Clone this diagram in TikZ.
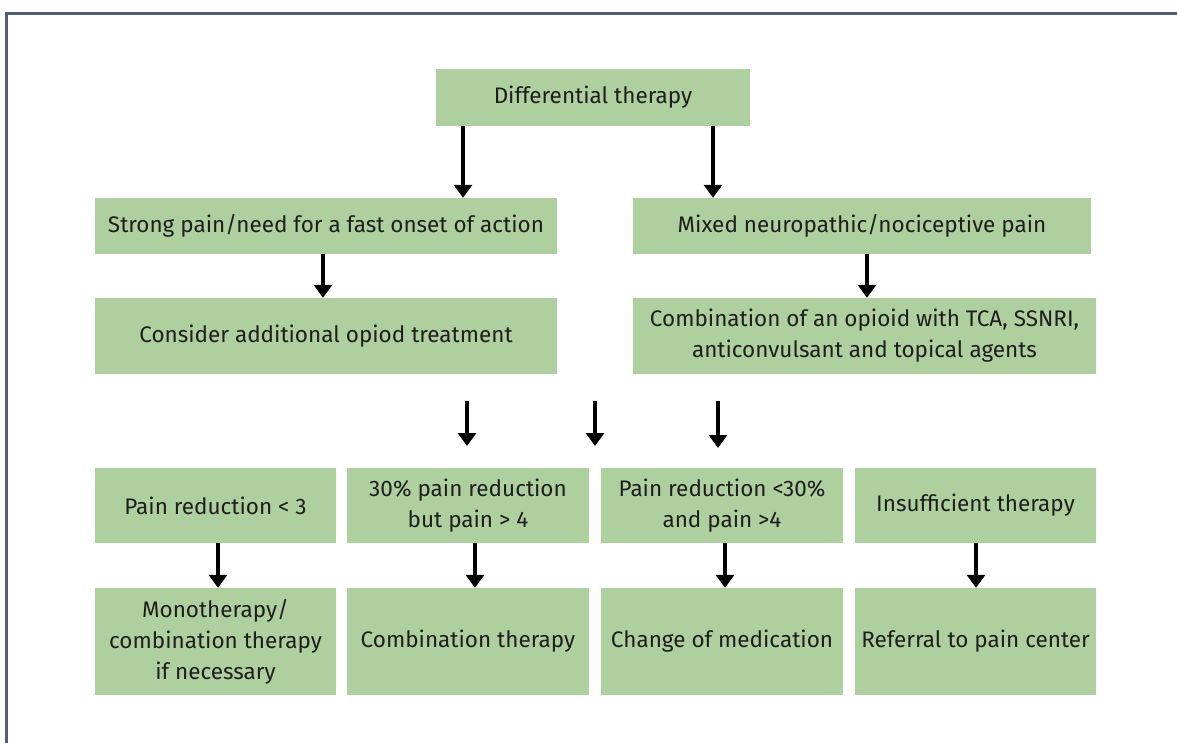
\documentclass[tikz,border=0pt]{standalone}
\usepackage{fontspec}
\setmainfont{Fira Sans}
\usetikzlibrary{arrows.meta}
\definecolor{boxgreen}{RGB}{174,208,158}
\definecolor{framecol}{RGB}{80,94,116}
\definecolor{txt}{RGB}{30,30,30}
\begin{document}
\begin{tikzpicture}[x=1pt,y=-1pt,
  box/.style={fill=boxgreen,draw=none,inner sep=0pt,align=center,text=txt,font=\fontsize{22.5}{31}\selectfont,anchor=center},
  arr/.style={line width=4pt,-{Triangle[width=18pt,length=13pt]}},
  frameline/.style={line width=2.5pt,draw=framecol}]
\useasboundingbox (0,0) rectangle (1177,742);
\draw[frameline] (6.5,745) -- (6.5,13.5) -- (1180,13.5);
% row 0
\node[box,minimum width=314pt,minimum height=57pt] (diff) at (593,97.5) {Differential therapy};
% row 1
\node[box,minimum width=462pt,minimum height=56pt] (strong) at (326,226) {Strong pain/need for a fast onset of action};
\node[box,minimum width=458pt,minimum height=56pt] (mixed) at (862,226) {Mixed neuropathic/nociceptive pain};
% row 2
\node[box,minimum width=462pt,minimum height=76pt] (consider) at (326,336) {Consider additional opiod treatment};
\node[box,minimum width=463pt,minimum height=76pt] (combo) at (864.5,336) {Combination of an opioid with TCA, SSNRI,\\anticonvulsant and topical agents};
% row 3
\node[box,minimum width=241pt,minimum height=75pt] (r1) at (215.5,505.5) {Pain reduction < 3};
\node[box,minimum width=242pt,minimum height=75pt] (r2) at (468,505.5) {30\% pain reduction\\but pain > 4};
\node[box,minimum width=242pt,minimum height=75pt] (r3) at (722,505.5) {Pain reduction <30\%\\and pain >4};
\node[box,minimum width=241pt,minimum height=75pt] (r4) at (975.5,505.5) {Insufficient therapy};
% row 4
\node[box,minimum width=241pt,minimum height=107pt] (b1) at (215.5,641.5) {Monotherapy/\\combination therapy\\if necessary};
\node[box,minimum width=242pt,minimum height=107pt] (b2) at (468,641.5) {Combination therapy};
\node[box,minimum width=242pt,minimum height=107pt] (b3) at (722,641.5) {Change of medication};
\node[box,minimum width=241pt,minimum height=107pt] (b4) at (975.5,641.5) {Referral to pain center};
% x positions for arrows
\coordinate (xa) at (463,0);
\coordinate (xb) at (713,0);
\coordinate (xc) at (323,0);
\coordinate (xd) at (867,0);
\coordinate (x1) at (218,0);
\coordinate (x2) at (475,0);
\coordinate (x3) at (725,0);
\coordinate (x4) at (976,0);
\draw[arr] (diff.south -| xa) -- (strong.north -| xa);
\draw[arr] (diff.south -| xb) -- (mixed.north -| xb);
\draw[arr] (strong.south -| xc) -- (consider.north -| xc);
\draw[arr] (mixed.south -| xd) -- (combo.north -| xd);
% free arrows
\coordinate (m1s) at (467,401); \coordinate (m1e) at (467,446);
\coordinate (m2s) at (595,401); \coordinate (m2e) at (595,446);
\coordinate (m3s) at (718,401); \coordinate (m3e) at (718,448);
\draw[arr] (m1s) -- (m1e);
\draw[arr] (m2s) -- (m2e);
\draw[arr] (m3s) -- (m3e);
\draw[arr] (r1.south -| x1) -- (b1.north -| x1);
\draw[arr] (r2.south -| x2) -- (b2.north -| x2);
\draw[arr] (r3.south -| x3) -- (b3.north -| x3);
\draw[arr] (r4.south -| x4) -- (b4.north -| x4);
\end{tikzpicture}
\end{document}
